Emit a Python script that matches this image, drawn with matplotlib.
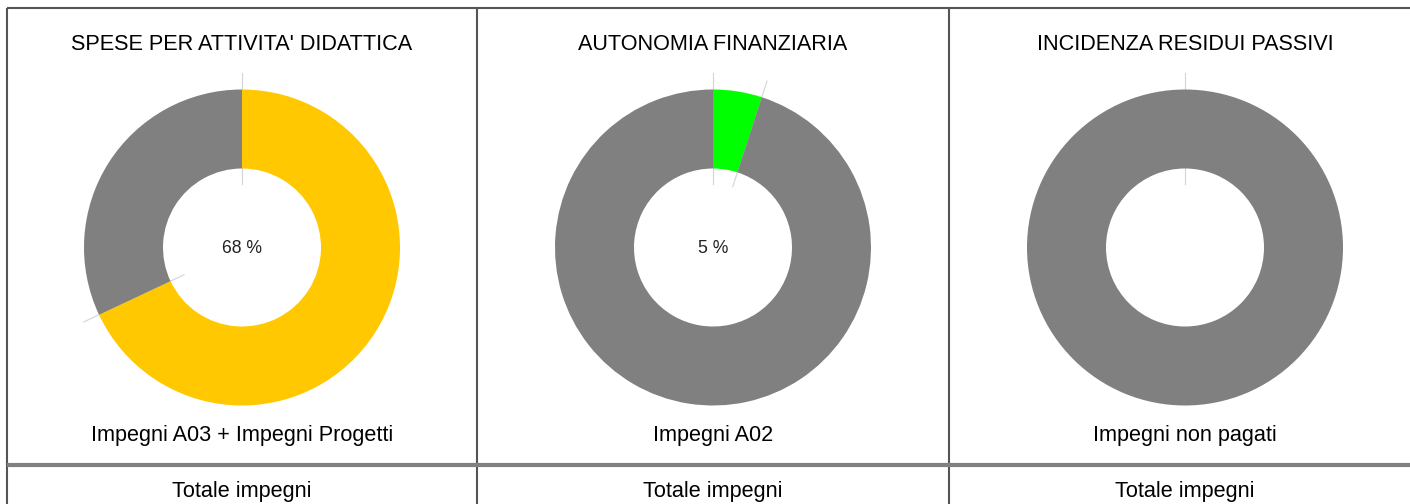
import numpy as np
import matplotlib.pyplot as plt

# data
titles = ["SPESE PER ATTIVITA' DIDATTICA", "AUTONOMIA FINANZIARIA", "INCIDENZA RESIDUI PASSIVI"]
numerators = ["Impegni A03 + Impegni Progetti", "Impegni A02", "Impegni non pagati"]
denominators = ["Totale impegni", "Totale impegni", "Totale impegni"]
percent = [68, 5, 0]
highlight = ["#FFC800", "#00FF00", "#FF0000"]
rest_color = "#808080"

W, H = 1410, 504
col_edges = [7, 477, 949, 1421]


def fy(y):
    # pixel row (from top) -> data y
    return H - y


fig = plt.figure(figsize=(W / 100, H / 100), dpi=100)
ax = fig.add_axes([0, 0, 1, 1])

font = 'Liberation Sans'
fs = 15.6

for i in range(3):
    cx = (col_edges[i] + col_edges[i + 1]) / 2
    cy = fy(247.5)
    p = percent[i]
    ax.pie([p, 100 - p], colors=[highlight[i], rest_color], startangle=90,
           counterclock=False, center=(cx, cy), radius=158,
           wedgeprops=dict(width=79, linewidth=0))

    # faint leader lines at slice boundaries
    bounds = [0, p] if 0 < p < 100 else [0]
    for b in bounds:
        a = np.deg2rad(90 - 3.6 * b)
        ax.plot([cx + 64 * np.cos(a), cx + 175 * np.cos(a)],
                [cy + 64 * np.sin(a), cy + 175 * np.sin(a)],
                color='#d4d4d4', lw=0.8, zorder=0.5)

    if p > 0:
        ax.text(cx, fy(253), f"{p} %", ha='center', va='baseline', fontsize=12.7,
                family=font, color='#222222')

    ax.text(cx, fy(50), titles[i], ha='center', va='baseline', fontsize=fs, family=font)
    ax.text(cx, fy(441), numerators[i], ha='center', va='baseline', fontsize=fs, family=font)
    ax.text(cx, fy(497), denominators[i], ha='center', va='baseline', fontsize=fs, family=font)

# table grid
ax.plot([7, W], [fy(8), fy(8)], color='#555555', lw=1.5, solid_capstyle='butt')
for x in col_edges[:3]:
    ax.plot([x, x], [fy(8), 0], color='#555555', lw=1.5, solid_capstyle='butt')
ax.plot([7, W], [fy(465), fy(465)], color='#808080', lw=3, solid_capstyle='butt')

ax.set_xlim(0, W)
ax.set_ylim(0, H)
ax.set_aspect('auto')
ax.axis('off')

plt.savefig('out.png', dpi=100)
